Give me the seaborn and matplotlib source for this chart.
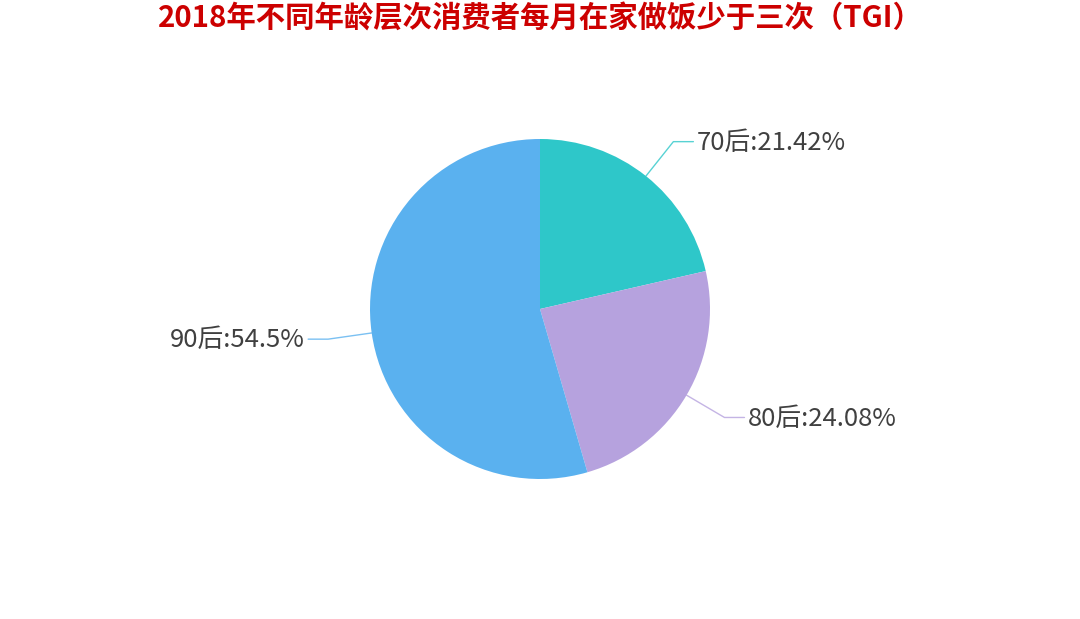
import numpy as np
import matplotlib
matplotlib.use("Agg")
import matplotlib.pyplot as plt
import seaborn as sns

categories = ["70后", "80后", "90后"]
values = [21.42, 24.08, 54.5]
value_labels = ["21.42%", "24.08%", "54.5%"]
title = "2018年不同年龄层次消费者每月在家做饭少于三次（TGI）"

sns.set_theme(style="white")
plt.rcParams["font.family"] = ["Noto Sans CJK SC", "DejaVu Sans"]

colors = sns.color_palette(["#2EC7C9", "#B6A2DE", "#5AB1EF"])

W, H = 1080, 619
fig = plt.figure(figsize=(W / 100, H / 100), dpi=100)
fig.patch.set_facecolor("white")
ax = fig.add_axes([0, 0, 1, 1])

cx, cy, R = 540, H - 309, 170
wedges, _ = ax.pie(values, colors=colors, startangle=90, counterclock=False,
                   center=(cx, cy), radius=R, frame=True,
                   wedgeprops=dict(linewidth=0))
ax.set_xlim(0, W)
ax.set_ylim(0, H)
ax.set_aspect("equal")
ax.axis("off")

len1, len2 = 44, 20
for w, cat, lab, col in zip(wedges, categories, value_labels, colors):
    ang = np.deg2rad((w.theta1 + w.theta2) / 2)
    x0, y0 = cx + R * np.cos(ang), cy + R * np.sin(ang)
    x1, y1 = cx + (R + len1) * np.cos(ang), cy + (R + len1) * np.sin(ang)
    side = 1 if np.cos(ang) >= 0 else -1
    x2 = x1 + side * len2
    ax.plot([x0, x1, x2], [y0, y1, y1], color=col, lw=1, alpha=0.8,
            solid_capstyle="round")
    ax.text(x2 + side * 3, y1 - 1, f"{cat}:{lab}", ha="left" if side > 0 else "right",
            va="center", fontsize=18.5, color="#404040")

fig.text(0.5, 1 - 19 / H, title, ha="center", va="center", fontsize=21.2,
         fontweight="bold", color="#CC0000")

fig.savefig("out.png", dpi=100, facecolor="white")
